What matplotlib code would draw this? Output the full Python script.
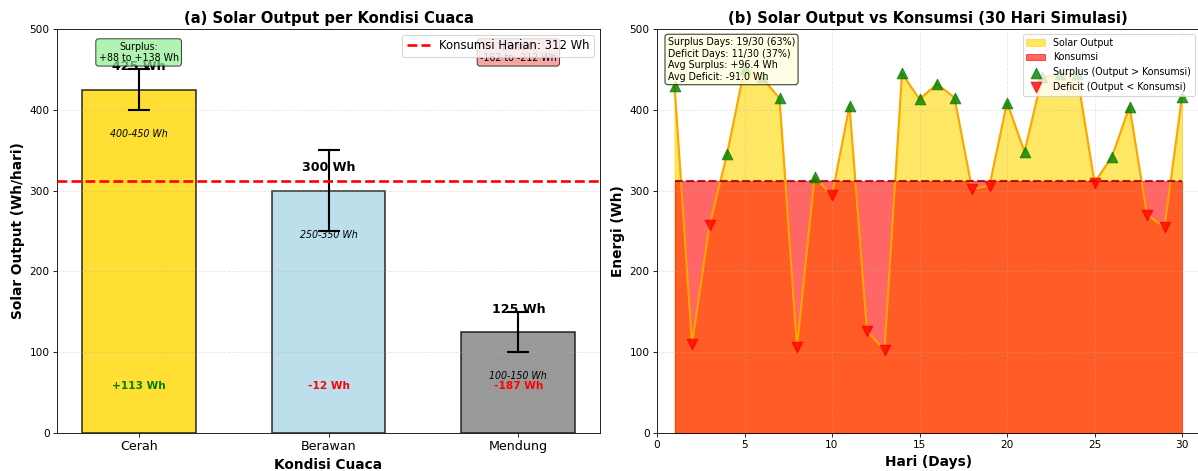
import numpy as np
import matplotlib.pyplot as plt

# data kondisi cuaca
kondisi = ['Cerah', 'Berawan', 'Mendung']
output_rata = [425, 300, 125]
output_err = [25, 50, 25]
rentang = ['400-450 Wh', '250-350 Wh', '100-150 Wh']
warna_bar = ['gold', 'lightblue', 'gray']
konsumsi = 312

# simulasi 30 hari
hari = list(range(1, 31))
solar_harian = [430, 110, 257, 345, 451, 440, 414, 106, 317, 294,
                405, 126, 103, 445, 413, 432, 415, 302, 306, 409,
                348, 440, 444, 444, 310, 342, 404, 270, 255, 416]

stats_txt = ('Surplus Days: 19/30 (63%)\nDeficit Days: 11/30 (37%)\n'
             'Avg Surplus: +96.4 Wh\nAvg Deficit: -91.0 Wh')

DPI = 76
fig = plt.figure(figsize=(1198 / DPI, 471 / DPI), dpi=DPI)
ax1 = fig.add_axes([57/1198, 38/471, 543/1198, 404/471])
ax2 = fig.add_axes([657/1198, 38/471, 542.5/1198, 404/471])

# ---- (a) bar chart
x = np.arange(len(kondisi))
ax1.bar(x, output_rata, 0.6, color=warna_bar, alpha=0.8, edgecolor='black', linewidth=1.5)
ax1.errorbar(x, output_rata, yerr=output_err, fmt='none', ecolor='black',
             capsize=10, elinewidth=2, capthick=2, zorder=3.5)
ax1.axhline(konsumsi, color='red', linestyle='--', linewidth=2.5,
            label='Konsumsi Harian: %d Wh' % konsumsi, zorder=4)
for i in range(len(kondisi)):
    h = output_rata[i]
    ax1.text(i, h + 20, '%d Wh' % h, ha='center', va='bottom', fontsize=12, fontweight='bold')
    ax1.text(i, h - 55, rentang[i], ha='center', va='center', fontsize=9, style='italic')
    selisih = h - konsumsi
    if selisih > 0:
        ax1.text(i, 58, '+%d Wh' % selisih, ha='center', va='center', fontsize=10,
                 fontweight='bold', color='green')
    else:
        ax1.text(i, 58, '%d Wh' % selisih, ha='center', va='center', fontsize=10,
                 fontweight='bold', color='red')

lo0 = output_rata[0] - output_err[0] - konsumsi
hi0 = output_rata[0] + output_err[0] - konsumsi
ax1.text(0, 471, 'Surplus:\n+%d to +%d Wh' % (lo0, hi0), ha='center', va='center', fontsize=9,
         bbox=dict(boxstyle='round', facecolor='lightgreen', alpha=0.7), zorder=5)
lo2 = output_rata[2] + output_err[2] - konsumsi
hi2 = output_rata[2] - output_err[2] - konsumsi
ax1.text(2, 471, 'Deficit:\n%d to %d Wh' % (lo2, hi2), ha='center', va='center', fontsize=9,
         bbox=dict(boxstyle='round', facecolor='lightcoral', alpha=0.7), zorder=2)

ax1.set_xticks(x)
ax1.set_xticklabels(kondisi, fontsize=12)
ax1.set_ylim(0, 500)
ax1.set_ylabel('Solar Output (Wh/hari)', fontsize=13, fontweight='bold')
ax1.set_xlabel('Kondisi Cuaca', fontsize=13, fontweight='bold')
ax1.set_title('(a) Solar Output per Kondisi Cuaca', fontsize=14, fontweight='bold')
ax1.grid(axis='y', alpha=0.3, linestyle='--')
ax1.legend(loc='upper right', fontsize=11)

# ---- (b) simulasi 30 hari
solar = np.array(solar_harian)
hr = np.array(hari)
ax2.fill_between(hr, 0, solar, color='gold', alpha=0.6, label='Solar Output')
ax2.fill_between(hr, 0, konsumsi, color='red', alpha=0.6, label='Konsumsi')
ax2.plot(hr, solar, color='orange', linewidth=2)
ax2.axhline(konsumsi, xmin=1/31, xmax=30/31, color='darkred', linestyle='--', linewidth=2, alpha=0.8)
surplus = solar > konsumsi
ax2.scatter(hr[surplus], solar[surplus], marker='^', color='green', s=100, alpha=0.8, zorder=5,
            label='Surplus (Output > Konsumsi)')
ax2.scatter(hr[~surplus], solar[~surplus], marker='v', color='red', s=100, alpha=0.8, zorder=5,
            label='Deficit (Output < Konsumsi)')
ax2.text(0.02, 0.98, stats_txt, transform=ax2.transAxes, va='top', ha='left', fontsize=9,
         bbox=dict(boxstyle='round', facecolor='lightyellow', alpha=0.8), zorder=6)
ax2.set_xlim(0, 31)
ax2.set_ylim(0, 500)
ax2.set_xlabel('Hari (Days)', fontsize=13, fontweight='bold')
ax2.set_ylabel('Energi (Wh)', fontsize=13, fontweight='bold')
ax2.set_title('(b) Solar Output vs Konsumsi (30 Hari Simulasi)', fontsize=14, fontweight='bold')
ax2.grid(True, alpha=0.3, linestyle='--')
ax2.legend(loc='upper right', fontsize=9)

fig.savefig('out.png', dpi=DPI)
